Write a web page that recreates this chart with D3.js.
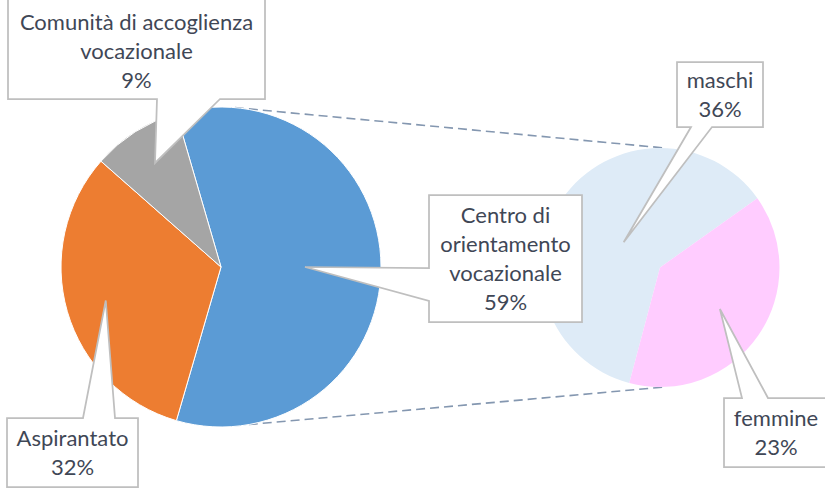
<!DOCTYPE html>
<html>
<head>
<meta charset="utf-8">
<script src="https://cdn.jsdelivr.net/npm/d3@7"></script>
<style>
  body { margin: 0; background: #fff; }
  svg { display: block; }
</style>
</head>
<body>
<svg id="chart" width="825" height="488"></svg>
<script>
// Primary pie: kind of vocational structure
const mainCategories = ["Centro di orientamento vocazionale", "Aspirantato", "Comunità di accoglienza vocazionale"];
const mainLabelLines = [["Centro di", "orientamento", "vocazionale"], ["Aspirantato"], ["Comunità di accoglienza", "vocazionale"]];
const mainValues = [59, 32, 9];
const mainColors = ["#5B9BD5", "#ED7D31", "#A5A5A5"];

// Secondary pie: breakdown of the first slice
const subCategories = ["maschi", "femmine"];
const subLabelLines = [["maschi"], ["femmine"]];
const subValues = [36, 23];
const subColors = ["#DEEBF7", "#FFCCFF"];

const svg = d3.select("#chart");
const deg = Math.PI / 180;
const fontSize = 22, lineH = 29;
const textColor = "#3F4756";

// geometry of the two pies
const main = { cx: 221, cy: 267, r: 160 };
const sub = { cx: 660, cy: 267.5, r: 119.5 };

// first slice of the main pie is centred on the right-hand side, facing the secondary pie
const total = d3.sum(mainValues);
const mainStart = Math.PI / 2 - Math.PI * mainValues[0] / total;
const mainPie = d3.pie().sort(null).startAngle(mainStart).endAngle(mainStart + 2 * Math.PI);
const subStart = 194.9 * deg;
const subPie = d3.pie().sort(null).startAngle(subStart).endAngle(subStart + 2 * Math.PI);

const mainArcs = mainPie(mainValues);
const subArcs = subPie(subValues);

const polar = (c, a, r) => [c.cx + r * Math.sin(a), c.cy - r * Math.cos(a)];

// connector lines between the pies
const gLines = svg.append("g");
[[5, 3.4], [170, 176.6]].forEach(([a1, a2]) => {
  const p1 = polar(main, a1 * deg, main.r);
  const p2 = polar(sub, a2 * deg, sub.r);
  gLines.append("line")
    .attr("x1", p1[0]).attr("y1", p1[1]).attr("x2", p2[0]).attr("y2", p2[1])
    .attr("stroke", "#8497B0").attr("stroke-width", 1.6)
    .attr("stroke-dasharray", "9,5");
});

const mainArc = d3.arc().innerRadius(0).outerRadius(main.r);
svg.append("g").attr("transform", `translate(${main.cx},${main.cy})`)
  .selectAll("path").data(mainArcs).join("path")
  .attr("d", mainArc)
  .attr("fill", (d, i) => mainColors[i])
  .attr("stroke", "#fff").attr("stroke-width", 1);

const subArc = d3.arc().innerRadius(0).outerRadius(sub.r);
svg.append("g").attr("transform", `translate(${sub.cx},${sub.cy})`)
  .selectAll("path").data(subArcs).join("path")
  .attr("d", subArc)
  .attr("fill", (d, i) => subColors[i]);

// callout boxes: box, side carrying the pointer, pointer base, and how deep inside the slice the tip sits
const mainCallouts = [
  { x: 429, y: 195, w: 153, h: 127, side: "left", b1: 268, b2: 301, depth: 0.525 },
  { x: 7, y: 418, w: 131, h: 69, side: "top", b1: 83, b2: 115, depth: 0.75 },
  { x: 8, y: -1, w: 257, h: 100, side: "bottom", b1: 157, b2: 220, depth: 0.77, dy: 2 }
];
const subCallouts = [
  { x: 677, y: 62, w: 86, h: 65, side: "bottom", b1: 691, b2: 712, depth: 0.37 },
  { x: 724, y: 398, w: 104, h: 69, side: "top", b1: 742, b2: 768, depth: 0.61 }
];

function calloutPath(c, tip) {
  const { x, y, w, h, b1, b2 } = c;
  let pts;
  if (c.side === "top") {
    pts = [[x, y], [b1, y], tip, [b2, y], [x + w, y], [x + w, y + h], [x, y + h]];
  } else if (c.side === "bottom") {
    pts = [[x, y], [x + w, y], [x + w, y + h], [b2, y + h], tip, [b1, y + h], [x, y + h]];
  } else {
    pts = [[x, y], [x + w, y], [x + w, y + h], [x, y + h], [x, b2], tip, [x, b1]];
  }
  return "M" + pts.map(p => p.join(",")).join("L") + "Z";
}

function drawLabels(arcs, centre, callouts, lines, values) {
  const tot = d3.sum(values);
  const g = svg.append("g");
  arcs.forEach((d, i) => {
    const c = callouts[i];
    const mid = (d.startAngle + d.endAngle) / 2;
    const tip = polar(centre, mid, centre.r * c.depth);
    g.append("path")
      .attr("d", calloutPath(c, tip))
      .attr("fill", "#fff")
      .attr("stroke", "#BFBFBF").attr("stroke-width", 1.75)
      .attr("stroke-linejoin", "miter");
    const pct = Math.round(d.value / (centre === main ? tot : d3.sum(mainValues)) * 100) + "%";
    const txt = lines[i].concat([pct]);
    const cx = c.x + c.w / 2, cy = c.y + c.h / 2 + (c.dy || 0);
    const t = g.append("text")
      .attr("font-family", "Lato, 'Open Sans', sans-serif")
      .attr("font-size", fontSize)
      .attr("fill", textColor)
      .attr("text-anchor", "middle");
    txt.forEach((s, k) => {
      t.append("tspan")
        .attr("x", cx)
        .attr("y", cy + (k - (txt.length - 1) / 2) * lineH + 0.35 * fontSize)
        .text(s);
    });
  });
}

drawLabels(mainArcs, main, mainCallouts, mainLabelLines, mainValues);
drawLabels(subArcs, sub, subCallouts, subLabelLines, subValues);
</script>
</body>
</html>
